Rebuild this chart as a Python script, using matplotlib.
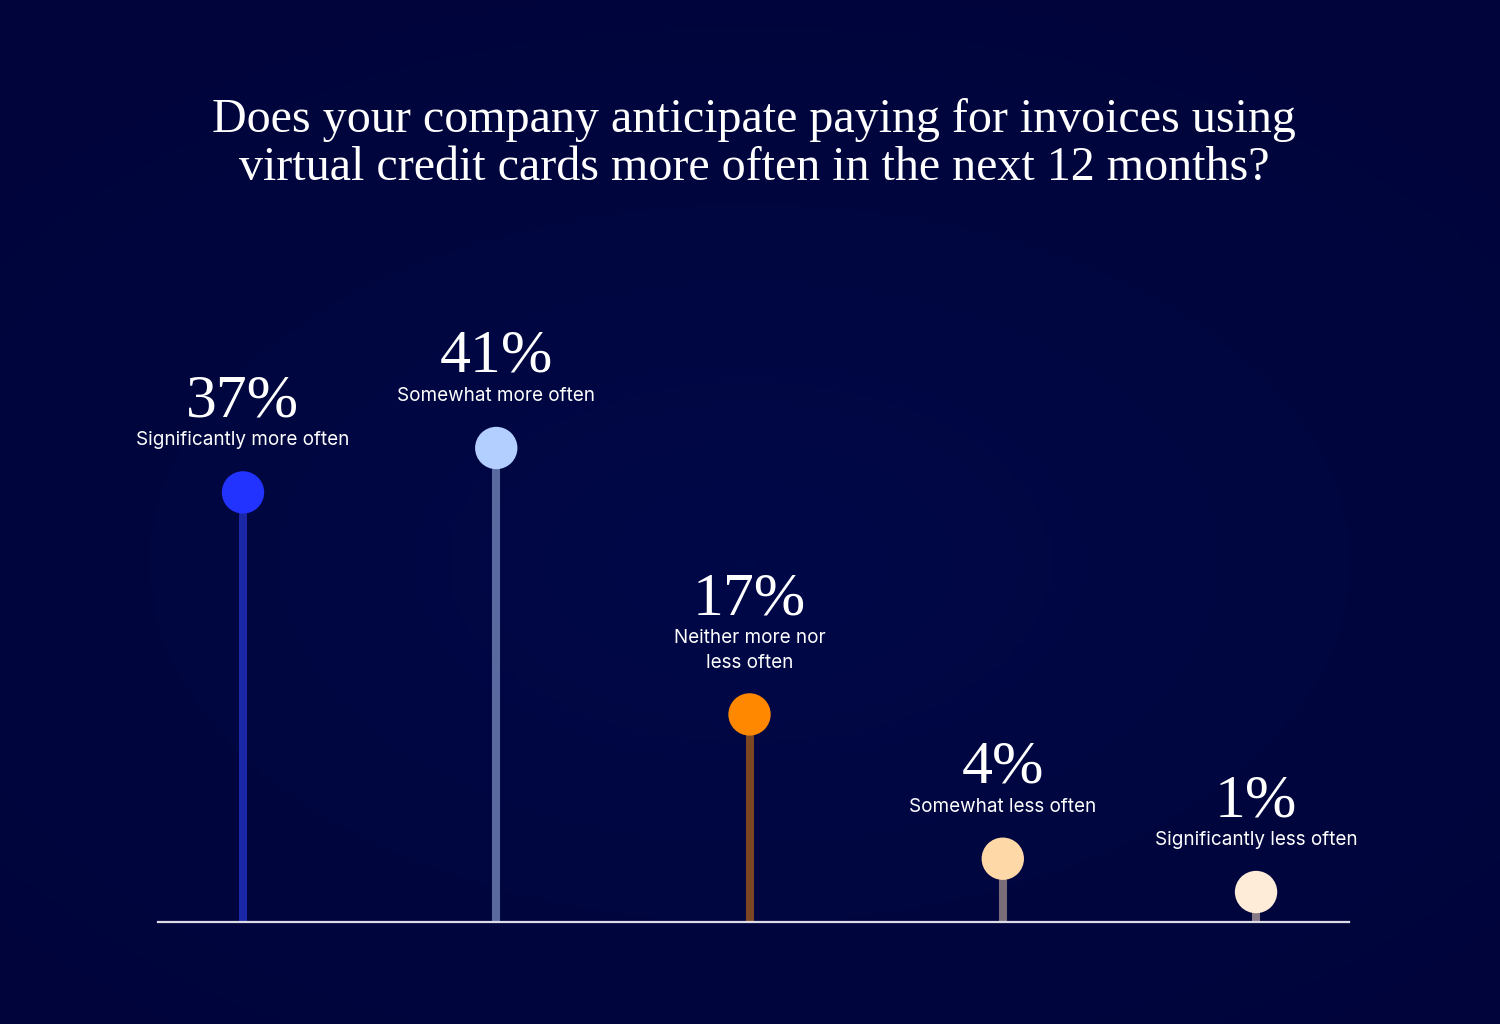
import matplotlib
matplotlib.use("Agg")
import matplotlib.pyplot as plt
import numpy as np
from matplotlib.colors import LinearSegmentedColormap

categories = ["Significantly more often", "Somewhat more often",
              "Neither more nor\nless often", "Somewhat less often",
              "Significantly less often"]
values = [37, 41, 17, 4, 1]
pct_labels = ["37%", "41%", "17%", "4%", "1%"]
dot_colors = ["#2233ff", "#b3cfff", "#ff8800", "#ffd8a8", "#ffecd8"]
stem_colors = ["#1a27a6", "#5a6a9e", "#7d4622", "#7a6c78", "#857a85"]
title_lines = ["Does your company anticipate paying for invoices using",
               "virtual credit cards more often in the next 12 months?"]

W, H = 1500, 1024
fig = plt.figure(figsize=(W / 100, H / 100), dpi=100)

# background gradient
bg = fig.add_axes([0, 0, 1, 1], zorder=-10)
yy, xx = np.mgrid[0:1:300j, 0:1:400j]
r = np.sqrt(((xx - 0.5) / 0.8) ** 2 + ((yy - 0.55) / 0.7) ** 2)
cmap = LinearSegmentedColormap.from_list("bg", ["#000848", "#00063f", "#00043a"])
bg.imshow(np.clip(r, 0, 1), cmap=cmap, aspect="auto", extent=[0, 1, 0, 1], origin="upper")
bg.set_axis_off()

# main axes: pixel mapping
x_left, x_right = 158, 1349
y_base, y_top = 922, 448
ax = fig.add_axes([x_left / W, (H - y_base) / H, (x_right - x_left) / W, (y_base - y_top) / H])
ax.set_facecolor("none")
ybot = -1.7
ax.set_xlim(-0.3356, 4.367)
ax.set_ylim(ybot, 41)
ax.set_axis_off()

xs = np.arange(len(values))
ax.vlines(xs, ybot, values, colors=stem_colors, linewidth=5.8, zorder=2)
ax.scatter(xs, values, s=930, c=dot_colors, zorder=3, linewidths=0, clip_on=False)
ax.axhline(ybot, color="#dcdce8", linewidth=1.6, zorder=4, clip_on=False)

for x, v, cat, p in zip(xs, values, categories, pct_labels):
    n = cat.count("\n") + 1
    ax.annotate(cat, (x, v), xytext=(0, 52 + 12 * (n - 1)), textcoords="offset pixels",
                ha="center", va="center", color="white", fontsize=13.6,
                family="Inter", linespacing=1.5, annotation_clip=False)
    ax.annotate(p, (x, v), xytext=(0, 76 + 24 * (n - 1)), textcoords="offset pixels",
                ha="center", va="baseline", color="white", fontsize=44.5,
                family="Liberation Serif", annotation_clip=False)

fig.text(754 / W, 1 - 120 / H, title_lines[0], ha="center", va="center",
         color="white", fontsize=34.6, family="Liberation Serif")
fig.text(754 / W, 1 - 168 / H, title_lines[1], ha="center", va="center",
         color="white", fontsize=34.6, family="Liberation Serif")

fig.savefig("out.png", dpi=100, facecolor="#00053c")
